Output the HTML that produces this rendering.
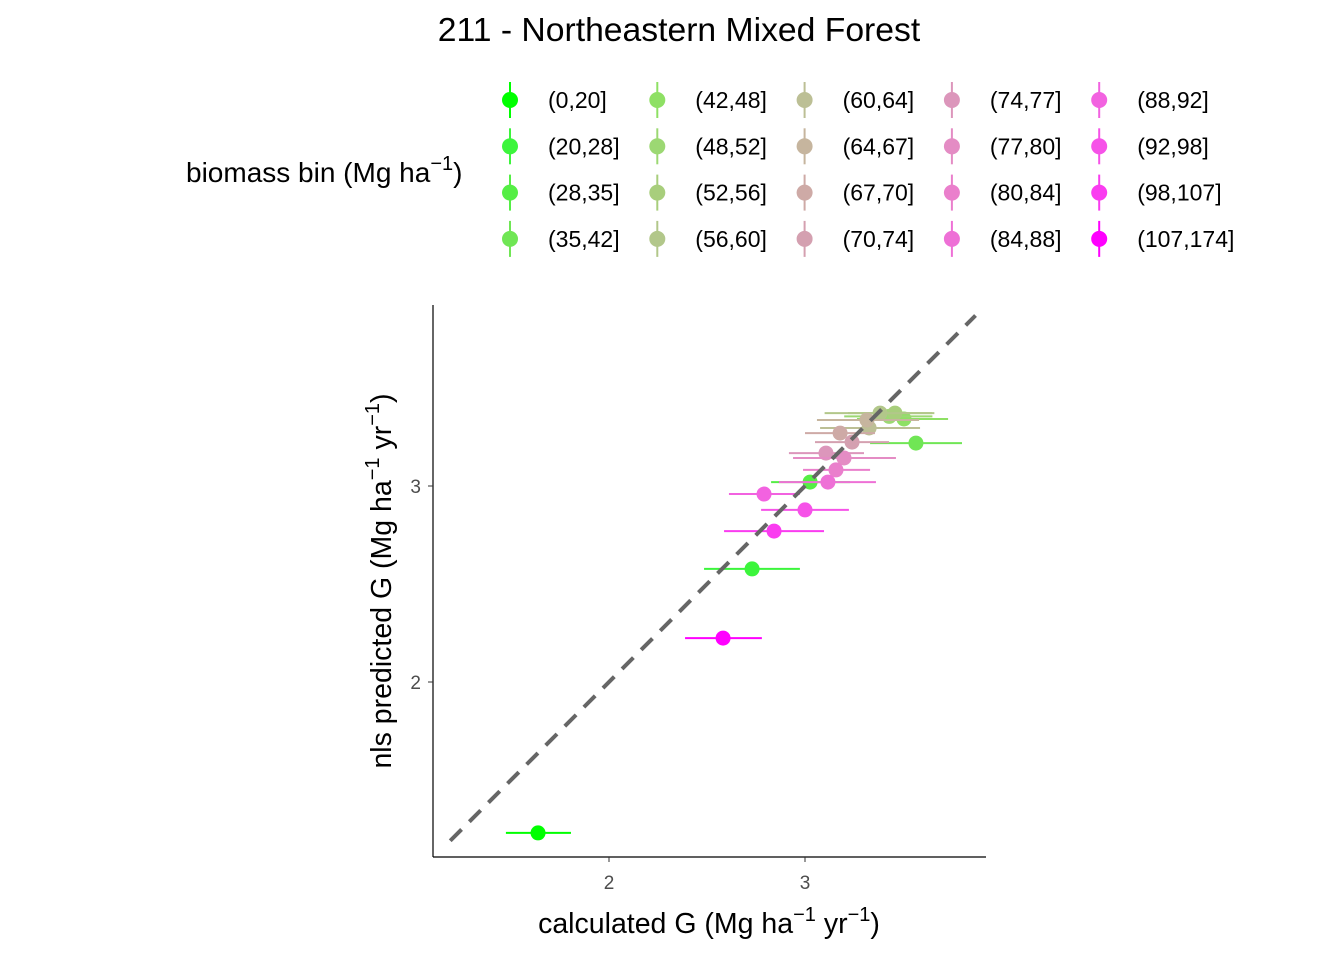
<!DOCTYPE html>
<html><head><meta charset="utf-8">
<style>
body{margin:0;background:#fff;}
svg{display:block;font-family:"Liberation Sans",Arial,sans-serif;}
</style></head>
<body>
<svg id="chart" width="1344" height="960">
<text x="679" y="41" text-anchor="middle" font-size="33.7" fill="#000">211 - Northeastern Mixed Forest</text>
<text x="186" y="182" font-size="28" fill="#000">biomass bin (Mg ha<tspan dy="-12" font-size="20">−1</tspan><tspan dy="12">)</tspan></text>
<g id="legend"></g>
<g id="plot"></g>
<text x="709" y="933" text-anchor="middle" font-size="28.5" fill="#000">calculated G (Mg ha<tspan dy="-12" font-size="20">−1</tspan><tspan dy="12"> yr</tspan><tspan dy="-12" font-size="20">−1</tspan><tspan dy="12">)</tspan></text>
<text transform="translate(391,581) rotate(-90)" text-anchor="middle" font-size="28.5" fill="#000">nls predicted G (Mg ha<tspan dy="-12" font-size="20">−1</tspan><tspan dy="12"> yr</tspan><tspan dy="-12" font-size="20">−1</tspan><tspan dy="12">)</tspan></text>
</svg>
<script>
const bins=["(0,20]","(20,28]","(28,35]","(35,42]","(42,48]","(48,52]","(52,56]","(56,60]","(60,64]","(64,67]","(67,70]","(70,74]","(74,77]","(77,80]","(80,84]","(84,88]","(88,92]","(92,98]","(98,107]","(107,174]"];
const colors=["#00ff00","#3cf53c","#55ee45","#70e655","#8ee064","#9cd873","#a8ce7c","#b2c78a","#bcbf95","#c6b59e","#ceaaa6","#d4a0b0","#dc96bb","#e48cc4","#ea7fcc","#ee70d6","#f262e0","#f652e8","#fa3cf0","#ff00ff"];
const xVals=[1.638,2.730,3.026,3.566,3.505,3.430,3.459,3.383,3.327,3.316,3.179,3.240,3.107,3.199,3.158,3.117,2.791,3.000,2.842,2.582];
const yVals=[1.230,2.577,3.020,3.219,3.342,3.355,3.372,3.372,3.296,3.337,3.270,3.224,3.168,3.143,3.082,3.020,2.959,2.878,2.770,2.224];
const xLo=[1.474,2.485,2.827,3.332,3.265,3.200,3.219,3.100,3.077,3.061,3.000,3.051,2.918,2.939,2.990,2.867,2.612,2.776,2.587,2.388];
const xHi=[1.806,2.974,3.230,3.801,3.730,3.650,3.648,3.660,3.587,3.582,3.357,3.429,3.301,3.464,3.332,3.362,2.974,3.224,3.097,2.780];
const xTicks=[2,3], yTicks=[2,3];
const NS="http://www.w3.org/2000/svg";
const X=v=>609+(v-2)*196, Y=v=>486-(v-3)*196;
function mk(t,a,p){const e=document.createElementNS(NS,t);for(const k in a)e.setAttribute(k,a[k]);p.appendChild(e);return e;}
const plot=document.getElementById('plot');
let ax=mk('line',{x1:433,y1:305,x2:433,y2:857,stroke:'#000','stroke-width':1.2},plot);

ax=mk('line',{x1:433,y1:857,x2:986,y2:857,stroke:'#000','stroke-width':1.2},plot);

xTicks.forEach(t=>{
  const l=mk('line',{x1:X(t),y1:857,x2:X(t),y2:862,stroke:'#333'},plot);
  
  const tx=mk('text',{x:X(t),y:889,'text-anchor':'middle','font-size':19,fill:'#4d4d4d'},plot);tx.textContent=t;
  
});
yTicks.forEach(t=>{
  const l=mk('line',{x1:428,y1:Y(t),x2:433,y2:Y(t),stroke:'#333'},plot);
  
  const tx=mk('text',{x:421,y:Y(t)+7,'text-anchor':'end','font-size':19,fill:'#4d4d4d'},plot);tx.textContent=t;
  
});
const x0=1.19,x1=3.87;
const dl=mk('line',{x1:X(x0),y1:Y(x0),x2:X(x1),y2:Y(x1),stroke:'#666','stroke-width':4,'stroke-dasharray':'16,11'},plot);

bins.forEach((b,i)=>{
  const g=mk('g',{},plot);
  
  mk('line',{x1:X(xLo[i]),x2:X(xHi[i]),y1:Y(yVals[i]),y2:Y(yVals[i]),stroke:colors[i],'stroke-width':2},g);
  mk('circle',{cx:X(xVals[i]),cy:Y(yVals[i]),r:7.5,fill:colors[i]},g);
});
plot.appendChild(dl);
const leg=document.getElementById('legend');
bins.forEach((b,i)=>{
  const c=Math.floor(i/4), r=i%4;
  const kx=510+c*147.3, ky=100+r*46.3;
  const g=mk('g',{},leg);
  
  mk('line',{x1:kx,x2:kx,y1:ky-18,y2:ky+18,stroke:colors[i],'stroke-width':2},g);
  mk('circle',{cx:kx,cy:ky,r:8,fill:colors[i]},g);
  const t=mk('text',{x:kx+38,y:ky+8,'font-size':23,fill:'#000'},g);t.textContent=b;
});
</script>
</body></html>
